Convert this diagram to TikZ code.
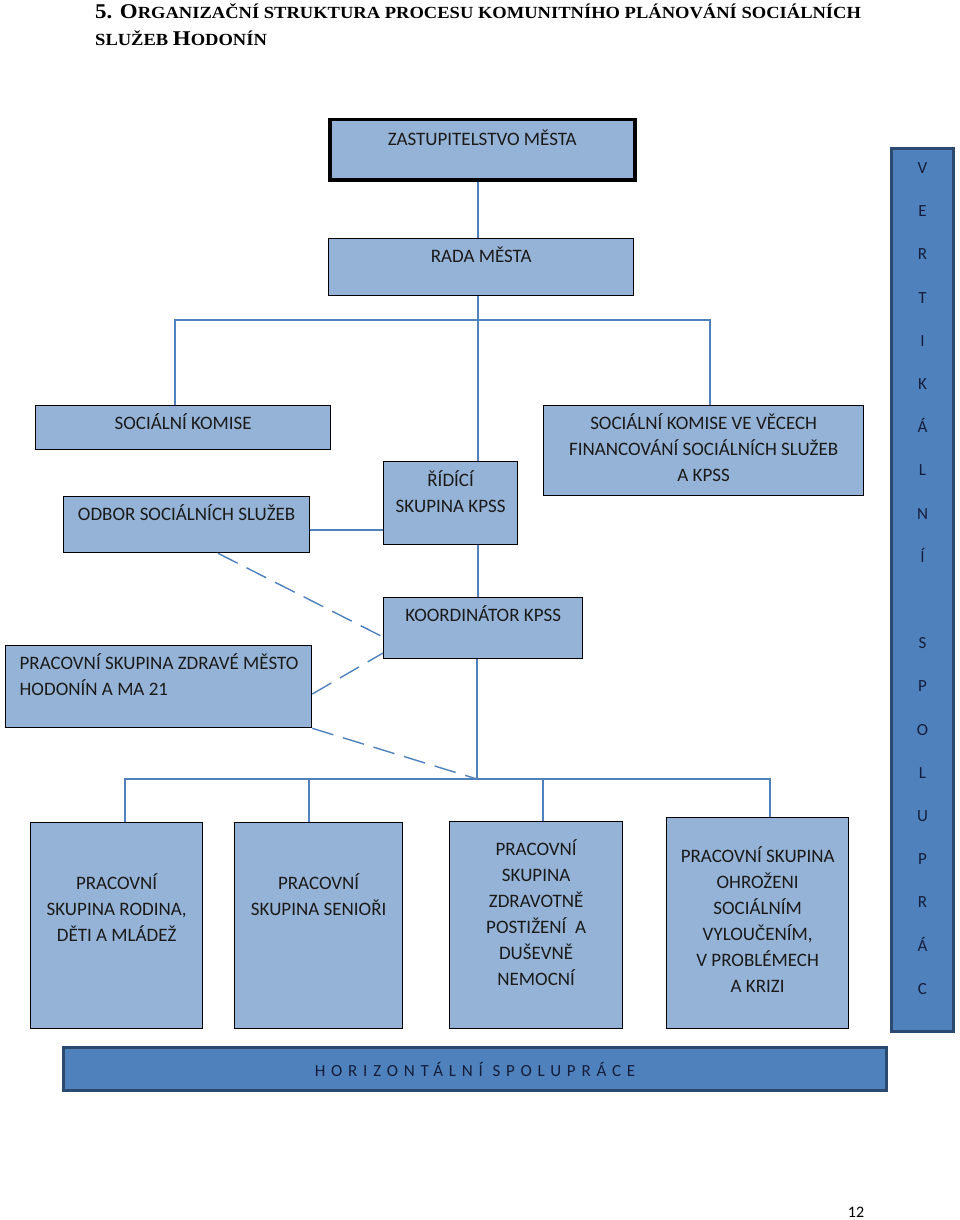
\documentclass[tikz,border=0pt]{standalone}
\usepackage{fontspec}
\setmainfont{Carlito}
\newfontfamily\titlefont{Liberation Serif}
\definecolor{boxfill}{RGB}{149,179,215}
\definecolor{barfill}{RGB}{79,129,189}
\definecolor{barline}{RGB}{44,74,112}
\definecolor{connc}{RGB}{79,129,189}
\definecolor{txt}{RGB}{26,26,26}
\definecolor{bartxt}{RGB}{20,30,60}
\newcommand{\bt}[4]{\parbox[c][#2pt][t]{#1pt}{\centering\fontsize{19}{26}\selectfont\vspace*{#3pt}\rule{0pt}{16pt}#4}}
\newcommand{\btl}[5]{\parbox[c][#2pt][t]{#1pt}{\raggedright\fontsize{19}{26}\selectfont\leftskip=#4pt\vspace*{#3pt}\rule{0pt}{16pt}#5}}
\newcommand{\TB}[1]{{\fontsize{21}{24}\selectfont #1}}
\newcommand{\TS}[1]{{\fontsize{17}{24}\selectfont #1}}
\tikzset{
  box/.style={draw=black, line width=1.3pt, fill=boxfill, inner sep=0pt, anchor=north west, text=txt},
  bar/.style={draw=barline, line width=3pt, fill=barfill, inner sep=0pt, anchor=north west, text=bartxt},
  conn/.style={draw=connc, line width=1.4pt},
  dconn/.style={conn, dash pattern=on 22pt off 10pt},
}
\begin{document}
\begin{tikzpicture}[x=1pt,y=-1pt]
\path[use as bounding box, fill=white] (0,0) rectangle (960,1220);

% title
\node[anchor=base west, inner sep=0pt, text=black] (title1) at (95,19)
  {\scalebox{1.09}[1]{\titlefont\bfseries\TB{5. O}\TS{RGANIZAČNÍ STRUKTURA PROCESU KOMUNITNÍHO PLÁNOVÁNÍ SOCIÁLNÍCH}}};
\node[anchor=base west, inner sep=0pt, text=black] (title2) at (95,46)
  {\scalebox{1.09}[1]{\titlefont\bfseries\TS{SLUŽEB }\TB{H}\TS{ODONÍN}}};

% boxes
\node[box, line width=3.5pt] (zast) at (328,118) {\bt{305}{60}{10}{ZASTUPITELSTVO MĚSTA}};
\node[box] (rada) at (328,238) {\bt{305}{57}{8}{RADA MĚSTA}};
\node[box] (sk) at (35,405) {\bt{295}{44}{8}{SOCIÁLNÍ KOMISE}};
\node[box] (odbor) at (63,496) {\bt{246}{56}{8}{ODBOR SOCIÁLNÍCH SLUŽEB}};
\node[box] (rid) at (383,461) {\bt{134}{83}{9}{ŘÍDÍCÍ\\SKUPINA KPSS}};
\node[box] (skf) at (543,405) {\bt{320}{90}{8}{SOCIÁLNÍ KOMISE VE VĚCECH\\FINANCOVÁNÍ SOCIÁLNÍCH SLUŽEB\\A KPSS}};
\node[box] (koord) at (383,597) {\bt{199}{61}{8}{KOORDINÁTOR KPSS}};
\node[box] (zdr) at (5,645) {\btl{306}{82}{8}{14}{PRACOVNÍ SKUPINA ZDRAVÉ MĚSTO\\HODONÍN A MA 21}};
\node[box] (b1) at (30,822) {\bt{172}{206}{51}{PRACOVNÍ\\SKUPINA RODINA,\\DĚTI A MLÁDEŽ}};
\node[box] (b2) at (234,822) {\bt{168}{206}{51}{PRACOVNÍ\\SKUPINA SENIOŘI}};
\node[box] (b3) at (449,821) {\bt{173}{207}{18}{PRACOVNÍ\\SKUPINA\\ZDRAVOTNĚ\\POSTIŽENÍ~ A\\DUŠEVNĚ\\NEMOCNÍ}};
\node[box] (b4) at (666,817) {\bt{182}{211}{29}{PRACOVNÍ SKUPINA\\OHROŽENI\\SOCIÁLNÍM\\VYLOUČENÍM,\\V PROBLÉMECH\\A KRIZI}};

% bars
\node[bar] (vert) at (890,147) {\parbox[c][883pt][t]{62pt}{\centering\fontsize{17}{43.2}\selectfont\vspace*{9pt}\rule{0pt}{16pt}V\\E\\R\\T\\I\\K\\Á\\L\\N\\Í\\[43.2pt]S\\P\\O\\L\\U\\P\\R\\Á\\C}};
\node[bar] (horiz) at (62,1046) {\parbox[c][43pt][c]{823pt}{\centering\fontsize{17}{20}\selectfont\addfontfeatures{LetterSpace=34}HORIZONTÁLNÍ SPOLUPRÁCE}};

\node[text=black, inner sep=0pt] (pg) at (856,1212) {\fontsize{16}{20}\selectfont 12};

% connector coordinates
\coordinate (tee) at (478,320);
\coordinate (busL) at (175,320);
\coordinate (busR) at (710,320);
\coordinate (oj) at (340,530);
\coordinate (jn) at (477,779);
\coordinate (c1) at (125,779);
\coordinate (c2) at (309,779);
\coordinate (c3) at (543,779);
\coordinate (c4) at (770,779);
\coordinate (d1) at (218,560);
\coordinate (d2) at (340,637);
\coordinate (d3) at (340,694);
\coordinate (d4) at (340,653);

% connectors
\draw[conn] (zast.south -| tee) -- (rada.north -| tee);
\draw[conn] (rada.south -| tee) -- (rid.north -| tee);
\draw[conn] (sk.north -| busL) -- (busL) -- (busR) -- (skf.north -| busR);
\draw[conn] (odbor.east |- oj) -- (rid.west |- oj);
\draw[conn] (rid.south -| tee) -- (koord.north -| tee);
\draw[conn] (koord.south -| jn) -- (jn);
\draw[conn] (b1.north -| c1) -- (c1) -- (c4) -- (b4.north -| c4);
\draw[conn] (c2) -- (b2.north -| c2);
\draw[conn] (c3) -- (b3.north -| c3);
\draw[dconn] (odbor.south -| d1) -- (koord.west |- d2);
\draw[dconn] (zdr.east |- d3) -- (koord.west |- d4);
\draw[dconn] (zdr.south east) -- (jn);
\end{tikzpicture}
\end{document}
